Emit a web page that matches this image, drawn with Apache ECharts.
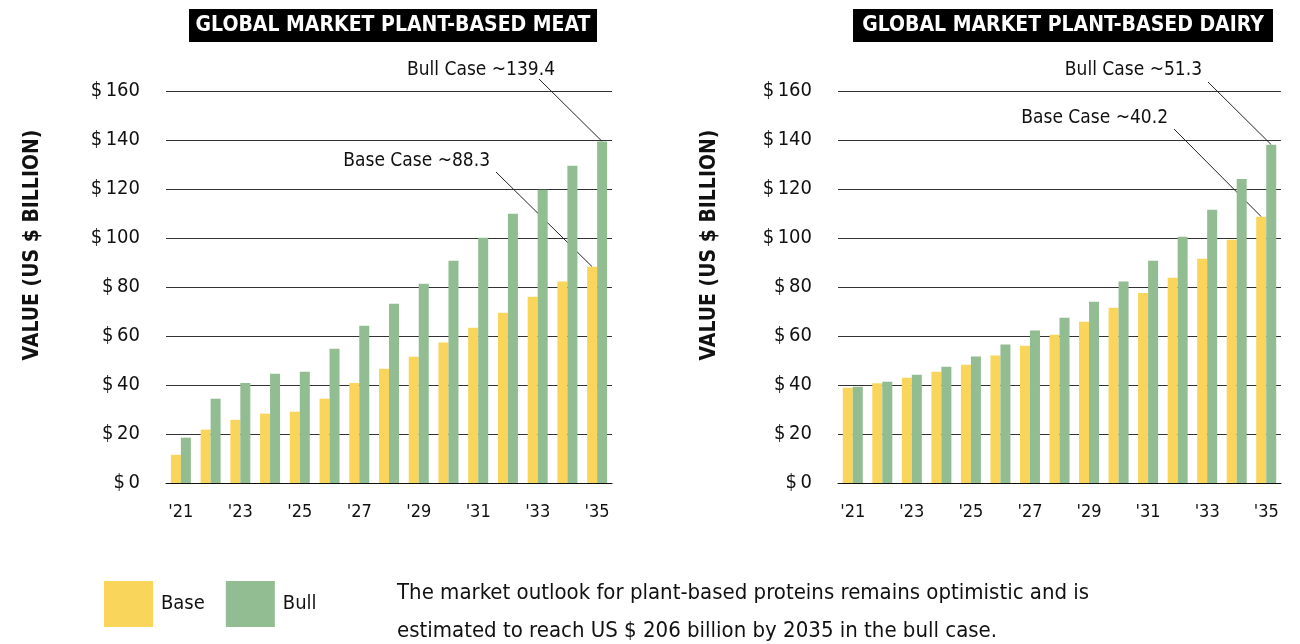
<!DOCTYPE html>
<html>
<head>
<meta charset="utf-8">
<script src="https://cdn.jsdelivr.net/npm/echarts@6/dist/echarts.min.js"></script>
<style>
  html, body { margin: 0; padding: 0; background: #fff; }
  #main { width: 1300px; height: 644px; }
</style>
</head>
<body>
<div id="main"></div>
<script>
// data (US $ billion)
const years = ["'21", "'22", "'23", "'24", "'25", "'26", "'27", "'28", "'29", "'30", "'31", "'32", "'33", "'34", "'35"]
const meatBase = [11.5, 21.8, 25.8, 28.3, 29.1, 34.4, 40.8, 46.6, 51.5, 57.3, 63.4, 69.5, 76.0, 82.2, 88.3]
const meatBull = [18.5, 34.4, 40.8, 44.6, 45.4, 54.8, 64.2, 73.2, 81.3, 90.7, 100.1, 109.9, 119.7, 129.5, 139.4]
const dairyBase = [38.9, 40.7, 43.0, 45.4, 48.3, 52.0, 56.0, 60.5, 65.8, 71.5, 77.6, 83.8, 91.5, 99.3, 108.7]
const dairyBull = [39.3, 41.3, 44.2, 47.5, 51.6, 56.5, 62.2, 67.5, 74.0, 82.2, 90.7, 100.5, 111.5, 124.1, 138.1]
const yMin = 0
const yMax = 160
const yStep = 20

const FONT = "'Liberation Sans Narrow', 'DejaVu Sans Condensed', sans-serif"
const YELLOW = '#F9D55B'
const GREEN = '#92BC92'

const chart = echarts.init(document.getElementById('main'))

function xAxis(gridIndex) {
  return {
    type: 'category',
    gridIndex: gridIndex,
    data: years,
    axisTick: { show: false },
    axisLine: { lineStyle: { color: '#111', width: 1 } },
    axisLabel: { interval: 1, margin: 20, fontSize: 18, color: '#111', fontFamily: FONT }
  }
}

function yAxis(gridIndex) {
  return {
    type: 'value',
    gridIndex: gridIndex,
    min: yMin,
    max: yMax,
    interval: yStep,
    axisLine: { show: false },
    axisTick: { show: false },
    axisLabel: {
      margin: 26,
      fontSize: 20,
      color: '#111',
      fontFamily: FONT,
      formatter: v => '$\u2009' + v
    },
    splitLine: { lineStyle: { color: '#333', width: 1 } }
  }
}

function bars(name, data, idx, color) {
  return {
    name: name,
    type: 'bar',
    xAxisIndex: idx,
    yAxisIndex: idx,
    data: data,
    barWidth: 10,
    barGap: '0%',
    itemStyle: { color: color },
    emphasis: { disabled: true }
  }
}

const option = {
  animation: false,
  grid: [
    { left: 166, top: 91, width: 446, height: 392 },
    { left: 838, top: 91, width: 443, height: 392 }
  ],
  xAxis: [xAxis(0), xAxis(1)],
  yAxis: [yAxis(0), yAxis(1)],
  legend: {
    data: ['Base', 'Bull'],
    left: 99,
    top: 576,
    itemWidth: 49,
    itemHeight: 46,
    itemGap: 21,
    icon: 'rect',
    textStyle: { fontSize: 20, color: '#111', fontFamily: FONT, padding: [0, 0, 0, 3] }
  },
  series: [
    bars('Base', meatBase, 0, YELLOW),
    bars('Bull', meatBull, 0, GREEN),
    bars('Base', dairyBase, 1, YELLOW),
    bars('Bull', dairyBull, 1, GREEN)
  ]
}

chart.setOption(option)

// titles, axis names, annotations
function titleBox(x, w, text) {
  return [
    { type: 'rect', shape: { x: x, y: 9, width: w, height: 33 }, style: { fill: '#000' } },
    {
      type: 'text', x: x + w / 2, y: 26,
      style: { text: text, fill: '#fff', font: 'bold 21px ' + FONT, align: 'center', verticalAlign: 'middle' }
    }
  ]
}

function yTitle(x) {
  return {
    type: 'text', x: x, y: 245, rotation: Math.PI / 2,
    style: { text: 'VALUE (US $ BILLION)', fill: '#111', font: 'bold 21px ' + FONT, align: 'center', verticalAlign: 'middle' }
  }
}

// leader line from label to top of a bar (offset -5 base, +5 bull)
function callout(grid, data, off, text, tx, ty, lx, ly) {
  const last = data.length - 1
  const p = chart.convertToPixel({ gridIndex: grid }, [last, data[last]])
  return [
    {
      type: 'text', x: tx, y: ty,
      style: { text: text, fill: '#111', font: '19px ' + FONT, align: 'right', verticalAlign: 'middle' }
    },
    {
      type: 'line',
      shape: { x1: lx, y1: ly, x2: p[0] + off, y2: p[1] },
      style: { stroke: '#222', lineWidth: 1 }
    }
  ]
}

const graphic = [].concat(
  titleBox(189, 408, 'GLOBAL MARKET PLANT-BASED MEAT'),
  titleBox(853, 420, 'GLOBAL MARKET PLANT-BASED DAIRY'),
  [yTitle(33), yTitle(710)],
  callout(0, meatBull, 5, 'Bull Case ~139.4', 555, 70, 539, 79),
  callout(0, meatBase, -5, 'Base Case ~88.3', 490, 161, 496, 172),
  callout(1, dairyBull, 5, 'Bull Case ~51.3', 1202, 70, 1208, 82),
  callout(1, dairyBase, -5, 'Base Case ~40.2', 1168, 118, 1174, 129),
  [{
    type: 'text', x: 397, y: 612,
    style: {
      text: 'The market outlook for plant-based proteins remains optimistic and is\nestimated to reach US $ 206 billion by 2035 in the bull case.',
      fill: '#111', font: '22px ' + FONT, lineHeight: 38, verticalAlign: 'middle'
    }
  }]
)

chart.setOption({ graphic: graphic })
</script>
</body>
</html>
